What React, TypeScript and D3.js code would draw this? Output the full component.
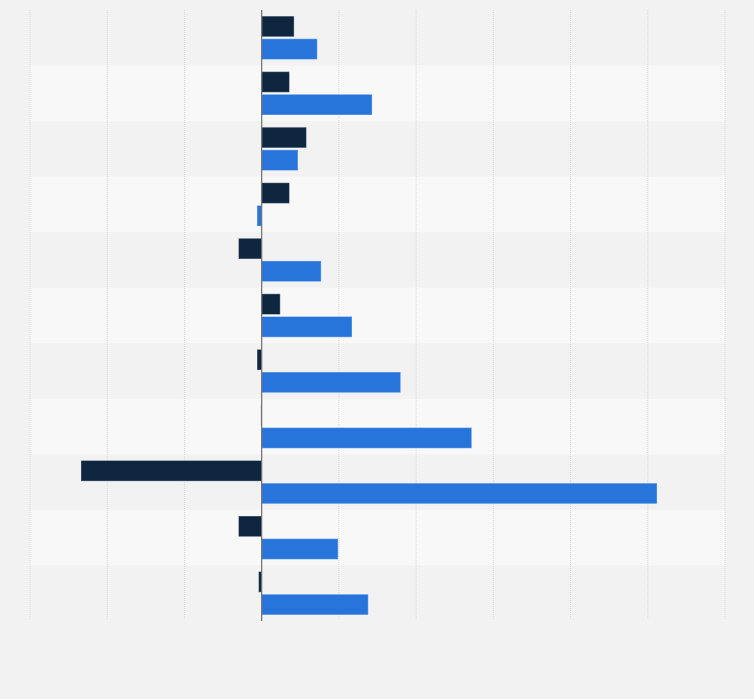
import React from "react";
import * as d3 from "d3";

// Eleven categories, two series per category (values in percent)
const categories = ["A", "B", "C", "D", "E", "F", "G", "H", "I", "J", "K"];
const seriesDark = [4.2, 3.6, 5.8, 3.6, -3.0, 2.4, -0.6, -0.1, -23.4, -3.0, -0.4];
const seriesBlue = [7.2, 14.3, 4.7, -0.6, 7.7, 11.7, 18.0, 27.2, 51.2, 9.9, 13.8];
const xTicks = [-30, -20, -10, 0, 10, 20, 30, 40, 50, 60];

const W = 754;
const H = 699;
const M = { top: 10, right: 29, bottom: 78, left: 30 };

export default function App() {
  const x = d3.scaleLinear().domain([-30, 60]).range([M.left, W - M.right]);
  const y = d3
    .scaleBand<string>()
    .domain(categories)
    .range([M.top, H - M.bottom])
    .paddingInner(0)
    .paddingOuter(0);
  const band = y.bandwidth();
  const pad = band * 0.11;
  const barH = (band - 2 * pad - 2) / 2;

  const barRect = (v: number) => ({
    x: Math.min(x(0), x(v)),
    w: Math.abs(x(v) - x(0)),
  });

  return (
    <div style={{ position: "fixed", left: 0, top: 0 }}>
      <svg width={W} height={H} style={{ display: "block" }}>
        <rect width={W} height={H} fill="#f2f2f2" />
        {categories.map((c, i) =>
          i % 2 === 1 ? (
            <rect
              key={"s" + c}
              x={x(-30)}
              y={y(c)}
              width={x(60) - x(-30)}
              height={band}
              fill="#f8f8f8"
            />
          ) : null
        )}
        {xTicks.map((t) =>
          t === 0 ? null : (
            <line
              key={"g" + t}
              x1={x(t)}
              x2={x(t)}
              y1={M.top}
              y2={H - M.bottom - 1}
              stroke="#d6d6d6"
              strokeWidth={1}
              strokeDasharray="1,1"
            />
          )
        )}
        {categories.map((c, i) => {
          const y0 = (y(c) as number) + pad;
          const d = barRect(seriesDark[i]);
          const b = barRect(seriesBlue[i]);
          return (
            <g key={"b" + c}>
              <rect
                x={d.x}
                y={y0}
                width={Math.max(d.w, 0.5)}
                height={barH}
                fill="#0f2640"
                stroke="rgba(255,255,255,0.35)"
                strokeWidth={1}
              />
              <rect
                x={b.x}
                y={y0 + barH + 2}
                width={Math.max(b.w, 0.5)}
                height={barH}
                fill="#2775db"
                stroke="rgba(255,255,255,0.35)"
                strokeWidth={1}
              />
            </g>
          );
        })}
        <line
          x1={x(0)}
          x2={x(0)}
          y1={M.top}
          y2={H - M.bottom}
          stroke="#6e6e6e"
          strokeWidth={1.2}
        />
      </svg>
    </div>
  );
}
